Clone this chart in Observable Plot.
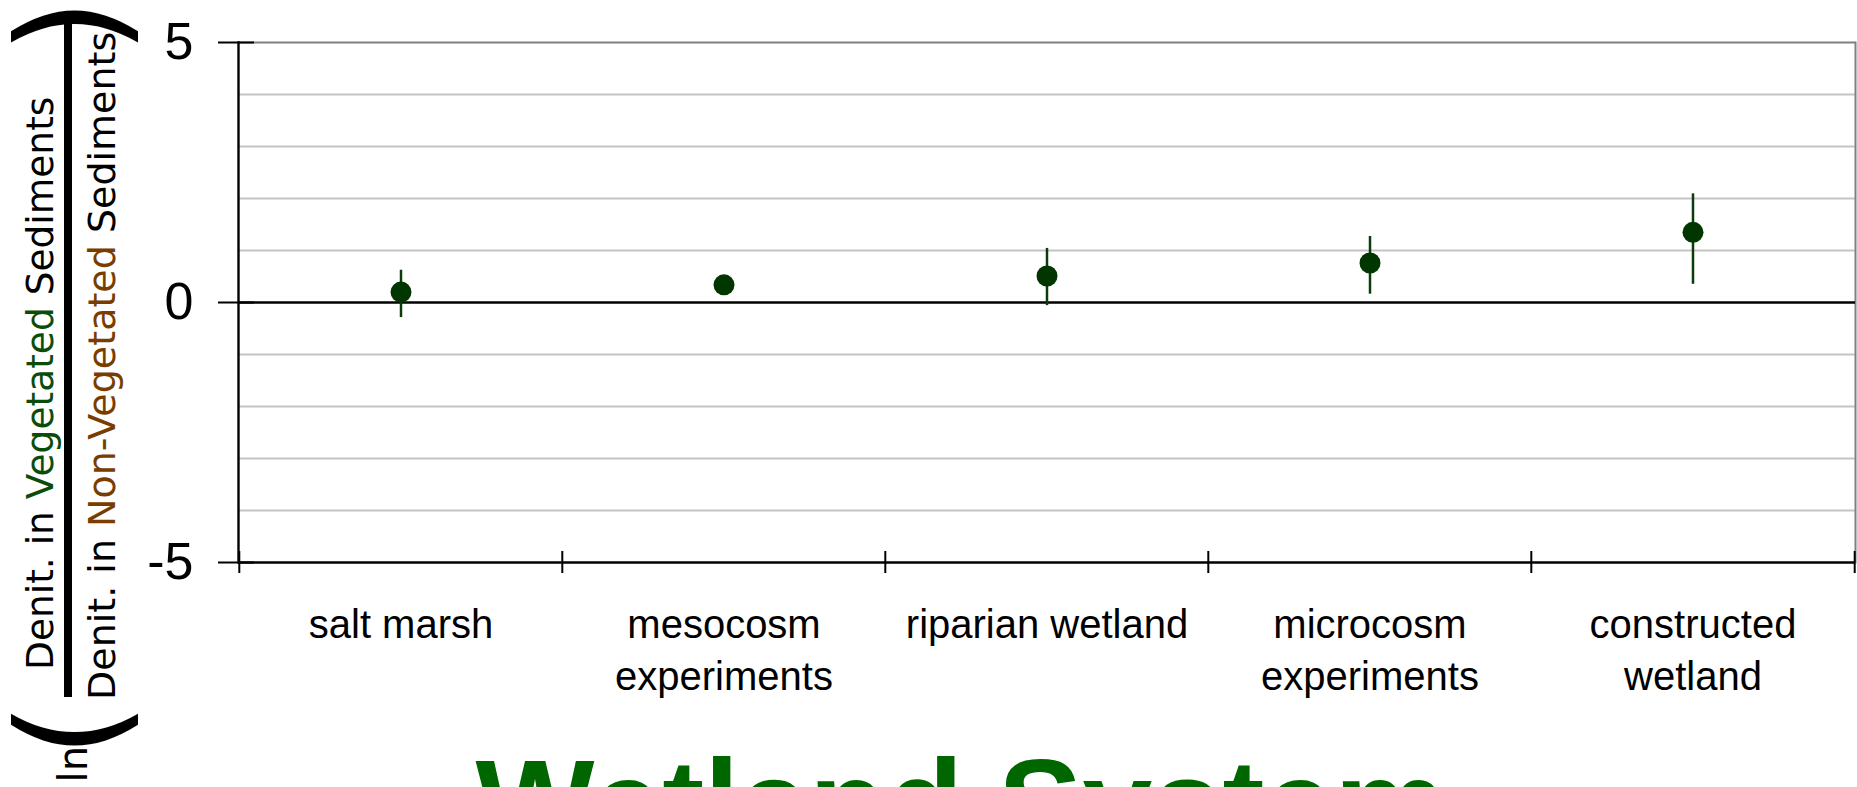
<!DOCTYPE html>
<html>
<head>
<meta charset="utf-8">
<script src="https://cdn.jsdelivr.net/npm/d3@7"></script>
<script src="https://cdn.jsdelivr.net/npm/@observablehq/plot@0.6"></script>
<style>
  html, body { margin: 0; padding: 0; background: #fff; overflow: hidden; }
  #chart svg { display: block; }
</style>
</head>
<body>
<div id="chart"></div>
<script>
// Wetland systems (x categories) and their axis labels
const categories = ["salt marsh", "mesocosm experiments", "riparian wetland", "microcosm experiments", "constructed wetland"];
const tickLabels = ["salt marsh", "mesocosm\nexperiments", "riparian wetland", "microcosm\nexperiments", "constructed\nwetland"];

// ln(vegetated / non-vegetated denitrification): mean and confidence interval
const meanLnRatio = [0.20, 0.34, 0.51, 0.76, 1.35];
const ciLow       = [-0.29, 0.26, -0.06, 0.16, 0.35];
const ciHigh      = [0.62, 0.43, 1.04, 1.27, 2.09];

// y axis ticks and minor gridlines
const yTicks = [-5, 0, 5];
const yGrid = [-4, -3, -2, -1, 1, 2, 3, 4];

const W = 1857, H = 787;
const mL = 238, mR = 2, mT = 42, mB = 225;
const plotW = W - mL - mR;
const bandW = plotW / categories.length;

const rows = categories.map((c, i) => ({system: c, mean: meanLnRatio[i], lo: ciLow[i], hi: ciHigh[i]}));
const last = categories[categories.length - 1];

const chart = Plot.plot({
  width: W,
  height: H,
  marginLeft: mL,
  marginRight: mR,
  marginTop: mT,
  marginBottom: mB,
  style: {fontFamily: "'Liberation Sans', Arial, sans-serif", background: "#fff", color: "#000"},
  x: {type: "band", domain: categories, padding: 0, label: null},
  y: {domain: [-5, 5], label: null},
  marks: [
    Plot.ruleY(yGrid, {stroke: "#c4c4c4", strokeWidth: 1.8}),
    Plot.ruleY([5], {stroke: "#808080", strokeWidth: 2}),
    Plot.frame({anchor: "right", stroke: "#808080", strokeWidth: 2}),
    Plot.ruleY([0], {stroke: "#000", strokeWidth: 2.6}),
    Plot.ruleY([-5], {stroke: "#000", strokeWidth: 2.4}),
    Plot.frame({anchor: "left", stroke: "#000", strokeWidth: 2.4}),
    // y ticks crossing the axis line
    Plot.tickY(yTicks, {y: d => d, stroke: "#000", strokeWidth: 2.2, insetLeft: -20, insetRight: plotW - 16}),
    // x ticks at the band boundaries, crossing the axis line
    Plot.ruleX(categories, {x: d => d, y1: -5, y2: -5, insetTop: -11, insetBottom: -11, dx: -bandW / 2, stroke: "#000", strokeWidth: 2}),
    Plot.ruleX([last], {x: d => d, y1: -5, y2: -5, insetTop: -11, insetBottom: -11, dx: bandW / 2, stroke: "#000", strokeWidth: 2}),
    Plot.axisY({ticks: yTicks, tickSize: 0, tickPadding: 45, fontSize: 52, tickFormat: d => String(d)}),
    Plot.axisX({tickSize: 0, tickPadding: 39, fontSize: 40, lineHeight: 1.3, tickFormat: d => tickLabels[categories.indexOf(d)]}),
    // confidence intervals and means
    Plot.ruleX(rows, {x: "system", y1: "lo", y2: "hi", stroke: "#0b3d0b", strokeWidth: 2.5}),
    Plot.dot(rows, {x: "system", y: "mean", r: 10.5, fill: "#013601", stroke: "none"})
  ]
});

document.getElementById("chart").appendChild(chart);

// y axis label: ln( vegetated / non-vegetated ), written bottom-to-top
const svg = d3.select(chart);
const green = "#0a4d0a", brown = "#7a3d00";
const lbl = svg.append("g").attr("font-family", "'DejaVu Sans', Verdana, sans-serif").attr("fill", "#000");
function rotText(x, y, anchor, size) {
  return lbl.append("text")
    .attr("transform", `translate(${x},${y}) rotate(-90)`)
    .attr("text-anchor", anchor)
    .attr("font-size", size);
}
const num = rotText(53, 670, "start", 37.5);
num.append("tspan").text("Denit. in ");
num.append("tspan").attr("fill", green).text("Vegetated");
num.append("tspan").text(" Sediments");

const den = rotText(115, 700, "start", 38);
den.append("tspan").text("Denit. in ");
den.append("tspan").attr("fill", brown).text("Non-Vegetated");
den.append("tspan").text(" Sediments");

lbl.append("line").attr("x1", 68).attr("x2", 68).attr("y1", 20).attr("y2", 697)
  .attr("stroke", "#000").attr("stroke-width", 8);

rotText(70, 26, "middle", 142).attr("dominant-baseline", "central").text(")");
rotText(70, 730, "middle", 142).attr("dominant-baseline", "central").text("(");
rotText(87, 746, "end", 40).text("ln");

// x axis title
svg.append("text")
  .attr("x", 961)
  .attr("y", 848)
  .attr("text-anchor", "middle")
  .attr("font-family", "'Liberation Sans', Arial, sans-serif")
  .attr("font-weight", "bold")
  .attr("font-size", 126)
  .attr("fill", "#006600")
  .text("Wetland System");
</script>
</body>
</html>
